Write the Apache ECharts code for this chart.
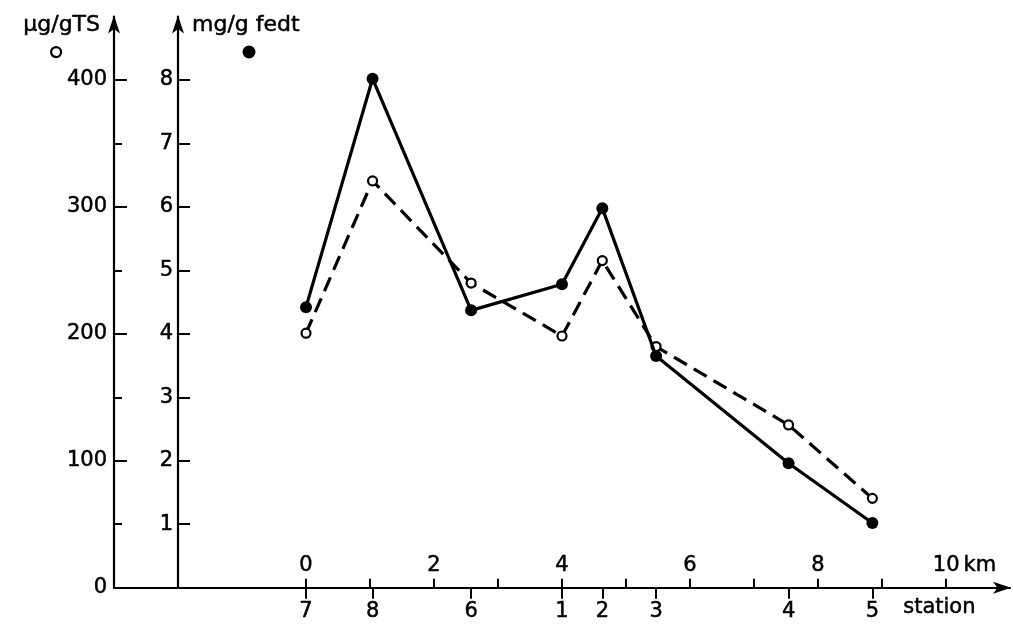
<!DOCTYPE html>
<html>
<head>
<meta charset="utf-8">
<script src="https://cdn.jsdelivr.net/npm/echarts@6/dist/echarts.min.js"></script>
<style>
html,body{margin:0;padding:0;background:#fff;}
#chart{width:1013px;height:631px;}
</style>
</head>
<body>
<div id="chart"></div>
<script>
// Sampling stations along the transect, placed by distance (km)
const stationNames = ['7', '8', '6', '1', '2', '3', '4', '5'];
const stationKm = [0, 1.04, 2.58, 4.0, 4.63, 5.47, 7.54, 8.85];

// Concentrations at each station
const fedtMg = [4.42, 8.02, 4.37, 4.78, 5.98, 3.65, 1.96, 1.02];      // mg/g fedt (filled dots)
const tsUg = [200.5, 320.5, 240, 198.3, 257.7, 190, 128.2, 70.4];     // µg/gTS (open dots)

// Tick values
const kmTicks = [0, 1, 2, 3, 4, 5, 6, 7, 8, 9, 10];
const kmLabels = [0, 2, 4, 6, 8, 10];
const ugMajor = [0, 100, 200, 300, 400];
const ugMinor = [50, 150, 250, 350];
const mgTicks = [1, 2, 3, 4, 5, 6, 7, 8];

const FONT = 'DejaVu Sans';
const INK = '#000';

// slightly heavier glyphs for all axis text
const txt = (size) => ({
  fontFamily: FONT, fontSize: size, color: INK,
  textBorderColor: INK, textBorderWidth: 0.5
});

const arrowLine = {
  show: true,
  onZero: false,
  lineStyle: { color: INK, width: 2.2 },
  symbol: ['none', 'arrow'],
  symbolSize: [9, 18],
  symbolOffset: [0, 1]
};

const chart = echarts.init(document.getElementById('chart'), null, { renderer: 'canvas' });

chart.setOption({
  animation: false,
  backgroundColor: '#fff',
  textStyle: { fontFamily: FONT, color: INK },
  grid: { left: 114, right: 3, top: 16.5, bottom: 43.3, containLabel: false },
  legend: [
    {
      data: [{ name: 'µg/gTS', icon: 'circle', itemStyle: { color: '#fff', borderColor: INK, borderWidth: 2.2 } }],
      left: 50, top: 46, itemWidth: 10, itemHeight: 10, padding: 0,
      formatter: () => '', selectedMode: false
    },
    {
      data: [{ name: 'mg/g fedt', icon: 'circle', itemStyle: { color: INK, borderWidth: 0 } }],
      left: 242.5, top: 45.5, itemWidth: 13, itemHeight: 13, padding: 0,
      formatter: () => '', selectedMode: false
    }
  ],
  xAxis: [
    {
      // distance scale, labelled above the line
      type: 'value', position: 'bottom', min: -3, max: 11,
      axisLine: arrowLine,
      splitLine: { show: false },
      axisTick: { show: true, inside: true, length: 9, customValues: kmTicks,
        lineStyle: { color: INK, width: 2 } },
      axisLabel: Object.assign(txt(21), {
        show: true, inside: true, margin: 12, customValues: kmLabels,
        formatter: v => v === 10 ? '{n|10}{u|km}' : String(v),
        rich: {
          n: Object.assign(txt(21), { padding: [0, 0, 0, 37] }),
          u: Object.assign(txt(21), { padding: [0, 0, 0, 4] })
        }
      })
    },
    {
      // station positions, labelled below the line
      type: 'value', position: 'bottom', min: -3, max: 11,
      axisLine: { show: false, onZero: false },
      splitLine: { show: false },
      axisTick: { show: true, inside: false, length: 11, customValues: stationKm,
        lineStyle: { color: INK, width: 2 } },
      axisLabel: Object.assign(txt(21), {
        show: true, margin: 13, customValues: stationKm,
        formatter: v => stationNames[stationKm.indexOf(v)]
      })
    }
  ],
  yAxis: [
    {
      // µg/gTS
      type: 'value', position: 'left', offset: 0, min: 0, max: 450,
      name: 'µg/gTS', nameLocation: 'end', nameGap: -9,
      nameTextStyle: Object.assign(txt(22), { align: 'right', verticalAlign: 'middle', padding: [0, 14, 0, 0] }),
      axisLine: arrowLine,
      splitLine: { show: false },
      axisTick: { show: true, inside: true, length: 13, customValues: ugMajor,
        lineStyle: { color: INK, width: 2 } },
      axisLabel: Object.assign(txt(21), { show: true, margin: 7, customValues: ugMajor })
    },
    {
      // mg/g fedt, drawn 2 km to the right of the first axis
      type: 'value', position: 'left', offset: -64, min: 0, max: 9,
      name: 'mg/g fedt', nameLocation: 'end', nameGap: -9,
      nameTextStyle: Object.assign(txt(22), { align: 'left', verticalAlign: 'middle', padding: [0, 0, 0, 14] }),
      axisLine: arrowLine,
      splitLine: { show: false },
      axisTick: { show: true, inside: true, length: 12, customValues: mgTicks,
        lineStyle: { color: INK, width: 2 } },
      axisLabel: Object.assign(txt(21), { show: true, margin: 5, customValues: mgTicks })
    },
    {
      // half-step ticks on the µg/gTS axis
      type: 'value', position: 'left', offset: 0, min: 0, max: 450,
      axisLine: { show: false, onZero: false },
      splitLine: { show: false },
      axisTick: { show: true, inside: true, length: 8, customValues: ugMinor,
        lineStyle: { color: INK, width: 2 } },
      axisLabel: { show: false }
    }
  ],
  graphic: [
    {
      type: 'text', left: 903, top: 597,
      style: { text: 'station', fontFamily: FONT, fontSize: 21, fill: INK, stroke: INK, lineWidth: 0.5 }
    }
  ],
  series: [
    {
      name: 'µg/gTS', type: 'line', xAxisIndex: 0, yAxisIndex: 0,
      data: stationKm.map((k, i) => [k, tsUg[i]]),
      symbol: 'circle', symbolSize: 9,
      itemStyle: { color: '#fff', borderColor: INK, borderWidth: 2.2 },
      lineStyle: { color: INK, width: 3.2, type: [15, 8] },
      z: 3
    },
    {
      name: 'mg/g fedt', type: 'line', xAxisIndex: 0, yAxisIndex: 1,
      data: stationKm.map((k, i) => [k, fedtMg[i]]),
      symbol: 'circle', symbolSize: 12,
      itemStyle: { color: INK, borderWidth: 0 },
      lineStyle: { color: INK, width: 3.2 },
      z: 4
    }
  ]
});
</script>
</body>
</html>
